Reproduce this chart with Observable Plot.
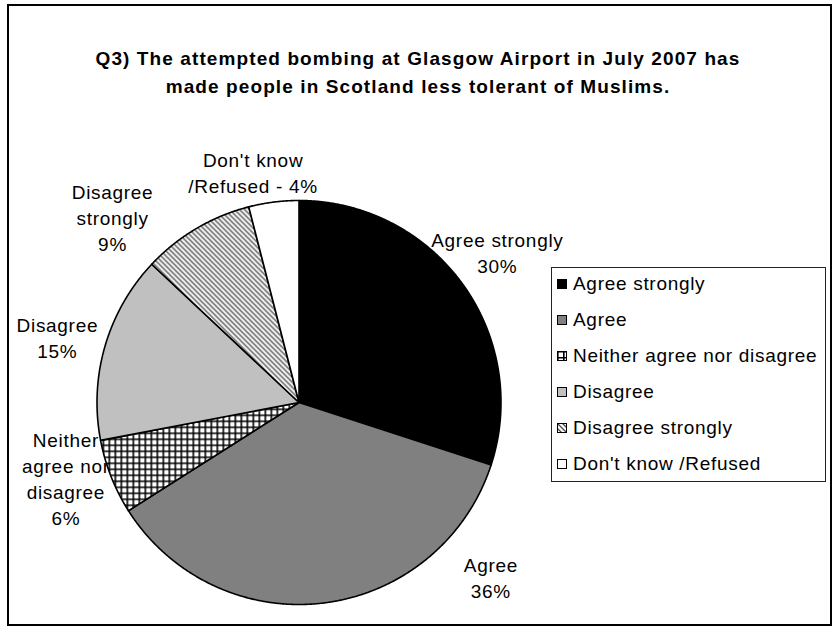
<!DOCTYPE html>
<html>
<head>
<meta charset="utf-8">
<script src="https://cdn.jsdelivr.net/npm/d3@7"></script>
<script src="https://cdn.jsdelivr.net/npm/@observablehq/plot@0.6"></script>
<style>
  body { margin: 0; background: #fff; }
  #wrap { position: relative; width: 834px; height: 629px; overflow: hidden; background: #fff;
          font-family: "Liberation Sans", Arial, sans-serif; }
  #frame { position: absolute; left: 7px; top: 4px; width: 825px; height: 622px;
           border: 2px solid #000; box-sizing: border-box; pointer-events: none; }
  #title { position: absolute; left: 0; width: 836px; top: 45px; text-align: center;
           font-weight: bold; font-size: 19px; line-height: 28px; color: #000; letter-spacing: 1.1px; }
  #chart { position: absolute; left: 0; top: 0; }
  #chart svg text { letter-spacing: 0.7px; }
  #legend { position: absolute; left: 551px; top: 267px; width: 275px; height: 215px;
            border: 1px solid #222; box-sizing: border-box; background: #fff; }
  .row { position: absolute; left: 5px; height: 24px; display: flex; align-items: center;
         font-size: 19px; letter-spacing: 0.7px; color: #000; white-space: nowrap; }
  .row svg { margin-right: 6px; flex: none; }
</style>
</head>
<body>
<svg width="0" height="0" style="position:absolute">
  <defs>
    <pattern id="pat-grid" width="6" height="6" patternUnits="userSpaceOnUse">
      <rect width="6" height="6" fill="#fff"/>
      <path d="M0,0.8H6M0.8,0V6" stroke="#000" stroke-width="1.6"/>
    </pattern>
    <pattern id="pat-diag" width="5" height="5" patternUnits="userSpaceOnUse">
      <rect width="5" height="5" fill="#fff"/>
      <path d="M0,0L5,5M-1,4L1,6M4,-1L6,1" stroke="#4a4a4a" stroke-width="1.3"/>
    </pattern>
  </defs>
</svg>
<div id="wrap">
  <div id="chart"></div>
  <div id="title"></div>
  <div id="legend"></div>
  <div id="frame"></div>
</div>
<script>
// ---- data ----
const titleLines = [
  "Q3) The attempted bombing at Glasgow Airport in July 2007 has",
  "made people in Scotland less tolerant of Muslims."
];
const categories = ["Agree strongly", "Agree", "Neither agree nor disagree", "Disagree", "Disagree strongly", "Don't know /Refused"];
const values = [30, 36, 6, 15, 9, 4];
const labelTexts = ["Agree strongly\n30%", "Agree\n36%", "Neither\nagree nor\ndisagree\n6%", "Disagree\n15%", "Disagree\nstrongly\n9%", "Don't know\n/Refused - 4%"];

// ---- styles / layout ----
const fills = ["#000000", "#808080", "url(#pat-grid)", "#c0c0c0", "url(#pat-diag)", "#ffffff"];
const W = 834, H = 629;
const cx = 298.5, cy = 402, R = 202;      // pie centre and radius in pixels
const labelR = 1.22;                       // label distance, in radii
const labelNudge = [[-1, -6], [161, -70], [-4, -16], [-5, 3], [-61, 26], [-15, 14]]; // px

// ---- geometry from data ----
const arcs = d3.pie().sort(null).value(d => d)(values);
const slices = arcs.map((a, i) => {
  const pts = [{x: 0, y: 0}];
  const n = Math.max(2, Math.ceil((a.endAngle - a.startAngle) / 0.005));
  for (let k = 0; k <= n; k++) {
    const t = a.startAngle + (a.endAngle - a.startAngle) * k / n;
    pts.push({x: Math.sin(t), y: Math.cos(t)});
  }
  pts.push({x: 0, y: 0});
  return pts;
});
const labels = arcs.map((a, i) => {
  const m = (a.startAngle + a.endAngle) / 2;
  return {
    x: Math.sin(m) * labelR + labelNudge[i][0] / R,
    y: Math.cos(m) * labelR - labelNudge[i][1] / R,
    text: labelTexts[i]
  };
});

const chart = Plot.plot({
  width: W, height: H, margin: 0,
  x: {domain: [-cx / R, (W - cx) / R], axis: null},
  y: {domain: [(cy - H) / R, cy / R], axis: null},
  style: {fontFamily: "'Liberation Sans', Arial, sans-serif", background: "transparent"},
  marks: [
    ...slices.map((pts, i) => Plot.line(pts, {
      x: "x", y: "y", fill: fills[i], stroke: "#000", strokeWidth: 1.6, strokeLinejoin: "round"
    })),
    Plot.text(labels, {x: "x", y: "y", text: "text", fontSize: 19, lineHeight: 1.37, fill: "#000", textAnchor: "middle"})
  ]
});
document.getElementById("chart").appendChild(chart);

// title
const t = document.getElementById("title");
t.innerHTML = titleLines.map(s => s.replace(/&/g, "&amp;").replace(/</g, "&lt;")).join("<br>");

// legend
const lg = document.getElementById("legend");
categories.forEach((c, i) => {
  const row = document.createElement("div");
  row.className = "row";
  row.style.top = (4 + i * 36) + "px";
  row.innerHTML = `<svg width="10" height="10"><rect x="0.5" y="0.5" width="9" height="9" fill="${fills[i]}" stroke="#000" stroke-width="1"/></svg><span></span>`;
  row.querySelector("span").textContent = c;
  lg.appendChild(row);
});
</script>
</body>
</html>
